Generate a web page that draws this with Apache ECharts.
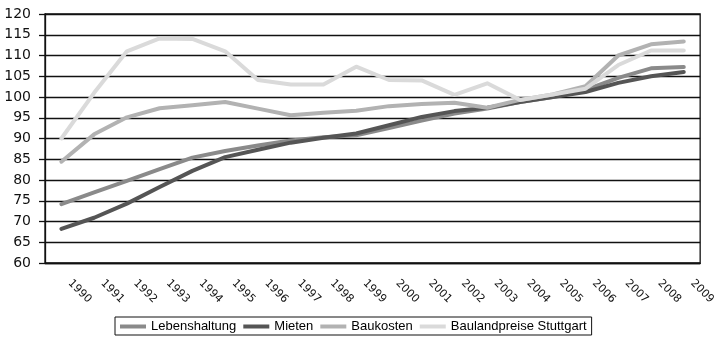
<!DOCTYPE html>
<html>
<head>
<meta charset="utf-8">
<script src="https://cdn.jsdelivr.net/npm/echarts@6/dist/echarts.min.js"></script>
<style>
  html, body { margin: 0; padding: 0; background: #fff; }
  #chart { width: 718px; height: 339px; }
</style>
</head>
<body>
<div id="chart"></div>
<script>
// Jahre (Kategorien)
const years = ['1990', '1991', '1992', '1993', '1994', '1995', '1996', '1997', '1998', '1999',
               '2000', '2001', '2002', '2003', '2004', '2005', '2006', '2007', '2008', '2009'];

// Indexwerte (2005 = 100)
const lebenshaltung = [74.2, 77.0, 79.8, 82.6, 85.4, 87.0, 88.3, 89.5, 90.3, 90.8,
                       92.5, 94.3, 96.0, 97.2, 98.8, 100.0, 101.7, 104.6, 106.9, 107.2];
const mieten        = [68.2, 70.9, 74.3, 78.3, 82.2, 85.5, 87.3, 89.0, 90.2, 91.2,
                       93.2, 95.2, 96.6, 97.4, 98.8, 100.0, 101.2, 103.4, 105.0, 106.0];
const baukosten     = [84.4, 91.0, 95.1, 97.3, 98.0, 98.8, 97.2, 95.6, 96.2, 96.7,
                       97.8, 98.3, 98.6, 97.4, 99.3, 100.6, 102.6, 110.0, 112.7, 113.4];
const bauland       = [90.0, 101.0, 111.0, 114.1, 114.0, 111.0, 104.1, 103.0, 103.0, 107.3,
                       104.1, 104.0, 100.5, 103.3, 99.3, 100.6, 102.0, 107.7, 111.2, 111.2];

const seriesNames = ['Lebenshaltung', 'Mieten', 'Baukosten', 'Baulandpreise Stuttgart'];
const seriesColors = ['#8a8a8a', '#555555', '#b2b2b2', '#dadada'];
const seriesData = [lebenshaltung, mieten, baukosten, bauland];

const chart = echarts.init(document.getElementById('chart'));

const option = {
    animation: false,
    backgroundColor: '#fff',
    color: seriesColors,
    grid: {
        left: 45,
        right: 15,
        top: 14,
        bottom: 76,
        show: true,
        borderColor: '#111',
        borderWidth: 1.3
    },
    legend: {
        data: seriesNames,
        left: 115,
        top: 317,
        padding: [3, 5, 2, 5],
        itemGap: 7,
        itemWidth: 26,
        itemHeight: 4,
        icon: 'rect',
        borderColor: '#111',
        borderWidth: 1,
        textStyle: {
            fontFamily: 'Liberation Sans',
            fontSize: 13,
            color: '#000'
        }
    },
    xAxis: {
        type: 'category',
        data: years,
        boundaryGap: true,
        axisLine: { lineStyle: { color: '#111', width: 1.3 } },
        axisTick: { length: 6, lineStyle: { color: '#111', width: 1.3 } },
        axisLabel: {
            rotate: -45,
            interval: 0,
            margin: 10,
            padding: [0, 0, 0, 12],
            fontFamily: 'DejaVu Sans',
            fontSize: 11,
            color: '#111'
        }
    },
    yAxis: {
        type: 'value',
        min: 60,
        max: 120,
        interval: 5,
        axisLine: { show: true, lineStyle: { color: '#111', width: 1.3 } },
        axisTick: { show: true, length: 6, lineStyle: { color: '#111', width: 1.3 } },
        axisLabel: {
            margin: 14,
            fontFamily: 'DejaVu Sans',
            fontSize: 14,
            color: '#111'
        },
        splitLine: { lineStyle: { color: '#111', width: 1.3 } }
    },
    series: seriesNames.map((name, i) => ({
        name: name,
        type: 'line',
        data: seriesData[i],
        showSymbol: false,
        symbol: 'none',
        lineStyle: { width: 4, color: seriesColors[i], cap: 'round', join: 'round' },
        itemStyle: { color: seriesColors[i] }
    }))
};

chart.setOption(option);
</script>
</body>
</html>
